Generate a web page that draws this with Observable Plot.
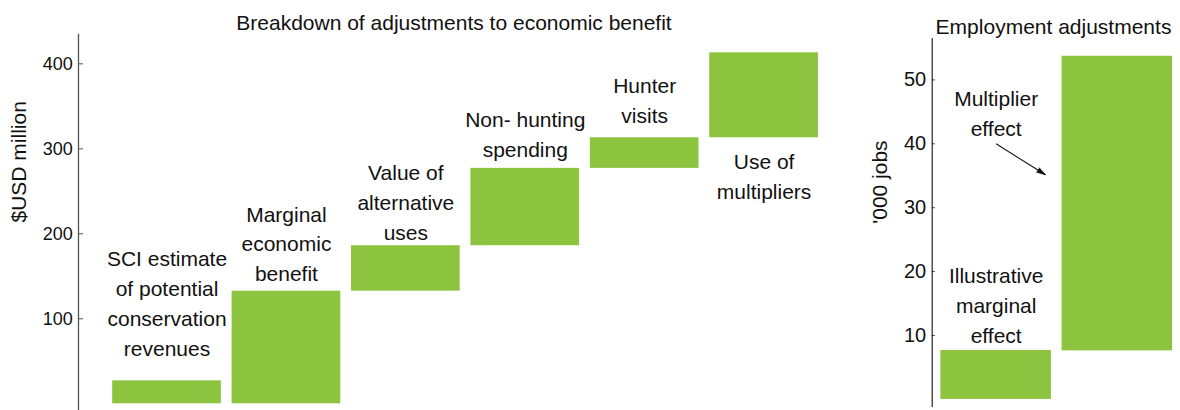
<!DOCTYPE html>
<html>
<head>
<meta charset="utf-8">
<script src="https://cdn.jsdelivr.net/npm/d3@7"></script>
<script src="https://cdn.jsdelivr.net/npm/@observablehq/plot@0.6"></script>
<style>
  html, body { margin: 0; padding: 0; background: #fff; }
  #wrap { display: flex; width: 1180px; height: 410px; overflow: hidden; }
  #wrap svg { display: block; }
</style>
</head>
<body>
<div id="wrap"></div>
<script>
// ---- Left panel data: breakdown of adjustments ($USD million) ----
const benefitCategories = [
  "SCI estimate\nof potential\nconservation\nrevenues",
  "Marginal\neconomic\nbenefit",
  "Value of\nalternative\nuses",
  "Non- hunting\nspending",
  "Hunter\nvisits",
  "Use of\nmultipliers"
];
const benefitLow  = [0, 0, 132.5, 186, 277, 313];
const benefitHigh = [27, 132.5, 186, 277, 313, 413];
const benefitLabelY = [120.2, 190.6, 239.2, 319.2, 359.2, 269.6];
const benefitTicks = [100, 200, 300, 400];

// ---- Right panel data: employment adjustments ('000 jobs) ----
const jobCategories = ["Illustrative marginal effect", "Multiplier effect"];
const jobLow  = [0, 7.6];
const jobHigh = [7.65, 53.7];
const jobLabels = ["Illustrative\nmarginal\neffect", "Multiplier\neffect"];
const jobLabelX = [0, 0];
const jobLabelY = [15, 45];
const jobTicks = [10, 20, 30, 40, 50];
const arrowFrom = [0, 40];
const arrowTo = [0.407, 35.15];

const GREEN = "#8cc43f";
const FONT = "'Liberation Sans', Arial, Helvetica, sans-serif";

const benefitRows = benefitCategories.map((c, i) => ({cat: c, low: benefitLow[i], high: benefitHigh[i], ly: benefitLabelY[i]}));
const jobRows = jobCategories.map((c, i) => ({cat: c, idx: i, low: jobLow[i], high: jobHigh[i]}));
const jobLabelRows = jobLabels.map((t, i) => ({t, x: jobLabelX[i], y: jobLabelY[i]}));
const arrowRows = [{x1: arrowFrom[0], y1: arrowFrom[1], x2: arrowTo[0], y2: arrowTo[1]}];

const left = Plot.plot({
  width: 850,
  height: 410,
  marginLeft: 78,
  marginRight: 21,
  marginTop: 34,
  marginBottom: 0,
  style: {fontFamily: FONT, background: "white", color: "#111", overflow: "visible"},
  x: {type: "band", domain: benefitCategories, range: [112.2, 817.9], paddingInner: 0.09, paddingOuter: 0, round: false, axis: null},
  y: {domain: [-7.9, 434.5], axis: null},
  marks: [
    Plot.barY(benefitRows, {x: "cat", y1: "low", y2: "high", fill: GREEN}),
    Plot.text(benefitRows, {x: "cat", y: "ly", text: "cat", fontSize: 21, lineHeight: 1.42, fill: "#111", lineAnchor: "middle"}),
    Plot.frame({anchor: "left", stroke: "#555", strokeWidth: 1.3}),
    Plot.axisY(benefitTicks, {anchor: "left", tickSize: -5, tickPadding: 10.7, fontSize: 18, fill: "#111", stroke: "#555", label: null}),
    Plot.text(["$USD million"], {frameAnchor: "left", rotate: -90, dx: -59, dy: 0, fontSize: 21, fill: "#111"}),
    Plot.text(["Breakdown of adjustments to economic benefit"], {frameAnchor: "top", lineAnchor: "bottom", dy: -4.7, fontSize: 21, fill: "#111"})
  ]
});

const right = Plot.plot({
  width: 330,
  height: 410,
  marginLeft: 81.7,
  marginRight: 5.7,
  marginTop: 38,
  marginBottom: 4,
  style: {fontFamily: FONT, background: "white", color: "#111", overflow: "visible"},
  x: {type: "linear", domain: [-0.5, 1.5], range: [85.05, 327.45], axis: null},
  y: {domain: [-1.11, 56.48], axis: null},
  marks: [
    Plot.rectY(jobRows, {x1: d => d.idx - 0.456, x2: d => d.idx + 0.456, y1: "low", y2: "high", fill: GREEN}),
    Plot.text(jobLabelRows, {x: "x", y: "y", text: "t", fontSize: 21, lineHeight: 1.42, fill: "#111", lineAnchor: "middle"}),
    Plot.link(arrowRows, {x1: "x1", y1: "y1", x2: "x2", y2: "y2", stroke: "#111", strokeWidth: 1.1}),
    Plot.vector(arrowRows, {x: "x2", y: "y2", anchor: "end", rotate: 122.3, length: 9, r: 2.6, shape: "spike", fill: "#111", stroke: "#111", strokeWidth: 0.6}),
    Plot.frame({anchor: "left", stroke: "#111", strokeWidth: 1.1}),
    Plot.axisY(jobTicks, {anchor: "left", tickSize: -3, tickPadding: 9, fontSize: 20, fill: "#111", stroke: "#333", label: null}),
    Plot.text(["'000 jobs"], {frameAnchor: "left", rotate: -90, dx: -52.2, dy: 1.3, fontSize: 21, fill: "#111"}),
    Plot.text(["Employment adjustments"], {frameAnchor: "top", lineAnchor: "bottom", dy: -4.7, fontSize: 21, fill: "#111"})
  ]
});

const wrap = document.getElementById("wrap");
wrap.appendChild(left);
wrap.appendChild(right);
</script>
</body>
</html>
